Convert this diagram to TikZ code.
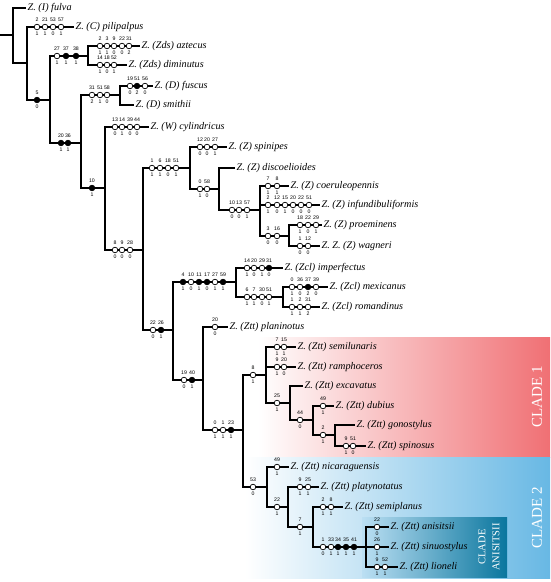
\documentclass[tikz,border=0pt]{standalone}
\usepackage{fontspec}
\setmainfont{Liberation Serif}
\newfontfamily\numfont{Liberation Sans}
\usepackage{tikz}
\usetikzlibrary{positioning}
\definecolor{cladered}{RGB}{240,112,116}
\definecolor{cladeblue}{RGB}{104,184,228}
\definecolor{anisteal}{RGB}{10,118,158}
\newcommand{\chars}[3]{%
  \foreach \dx/\dn/\ds/\df in {#3}{
    \node[chardot, fill=\df] (#1-\dn) at (\dx,#2) {};
    \node[charnum, above=1.6pt of #1-\dn] (#1-\dn-c) {\dn};
    \node[charnum, below=1.6pt of #1-\dn] (#1-\dn-s) {\ds};
  }}

\begin{document}
\begin{tikzpicture}[
  x=1pt, y=-1pt,
  branch/.style={line width=2.5pt},
  taxon/.style={anchor=west, inner xsep=1.5pt, inner ysep=0pt, font=\fontsize{10.2}{11}\selectfont\itshape},
  chardot/.style={circle, draw, line width=0.7pt, minimum size=5.6pt, inner sep=0pt},
  charnum/.style={inner sep=0.2pt, font=\numfont\fontsize{5.2}{5.2}\selectfont},
  cladelabel/.style={rotate=90, text=white, align=center}
]
\useasboundingbox (0,0) rectangle (550,582);

\shade[left color=white, right color=cladered] (258,337) rectangle (550,457);
\shade[left color=white, right color=cladeblue] (245,457) rectangle (550,578);
\shade[left color=cladeblue!45!white, right color=anisteal] (362,517) rectangle (507,577);

\node[cladelabel, font=\fontsize{15}{15}\selectfont] (clade1) at (537,397) {CLADE 1};
\node[cladelabel, font=\fontsize{15}{15}\selectfont] (clade2) at (537,518) {CLADE 2};
\node[cladelabel, font=\fontsize{10.5}{14}\selectfont] (cladeani) at (489,547) {CLADE\\ANISITSII};

\coordinate (base) at (0,35);
\coordinate (root) at (13,35);
\coordinate (n1) at (27,63);
\coordinate (n2) at (50,100);
\coordinate (zds) at (88,56);
\coordinate (n3) at (81,143);
\coordinate (dcl) at (120,95);
\coordinate (n4) at (105,188);
\coordinate (n5) at (143,250);
\coordinate (n6) at (190,168);
\coordinate (n8) at (219,189);
\coordinate (n9) at (260,210);
\coordinate (n10) at (289,236);
\coordinate (n7) at (173,330);
\coordinate (zcl) at (236,282);
\coordinate (n11) at (283,297);
\coordinate (ztt) at (203,380);
\coordinate (n12) at (243,430);
\coordinate (n13) at (266,375);
\coordinate (n14) at (290,403);
\coordinate (n15) at (313,420);
\coordinate (n16) at (335,435);
\coordinate (n20) at (267,487);
\coordinate (n21) at (288,507);
\coordinate (n22) at (313,527);
\coordinate (n23) at (366,547);

\node[taxon] (fulva) at (26,8) {Z. (I) fulva};
\node[taxon] (pilipalpus) at (74,27) {Z. (C) pilipalpus};
\node[taxon] (aztecus) at (140,46) {Z. (Zds) aztecus};
\node[taxon] (diminutus) at (127,65) {Z. (Zds) diminutus};
\node[taxon] (fuscus) at (153,86) {Z. (D) fuscus};
\node[taxon] (smithii) at (134,105) {Z. (D) smithii};
\node[taxon] (cylindricus) at (149,127) {Z. (W) cylindricus};
\node[taxon] (spinipes) at (227,147) {Z. (Z) spinipes};
\node[taxon] (discoelioides) at (235,168) {Z. (Z) discoelioides};
\node[taxon] (coeruleopennis) at (289,186) {Z. (Z) coeruleopennis};
\node[taxon] (infundibuliformis) at (320,205) {Z. (Z) infundibuliformis};
\node[taxon] (proeminens) at (322,225) {Z. (Z) proeminens};
\node[taxon] (wagneri) at (320,246) {Z. Z. (Z) wagneri};
\node[taxon] (imperfectus) at (283,268) {Z. (Zcl) imperfectus};
\node[taxon] (mexicanus) at (328,287) {Z. (Zcl) mexicanus};
\node[taxon] (romandinus) at (320,307) {Z. (Zcl) romandinus};
\node[taxon] (planinotus) at (228,327) {Z. (Ztt) planinotus};
\node[taxon] (semilunaris) at (296,347) {Z. (Ztt) semilunaris};
\node[taxon] (ramphoceros) at (296,367) {Z. (Ztt) ramphoceros};
\node[taxon] (excavatus) at (303,386) {Z. (Ztt) excavatus};
\node[taxon] (dubius) at (334,406) {Z. (Ztt) dubius};
\node[taxon] (gonostylus) at (355,425) {Z. (Ztt) gonostylus};
\node[taxon] (spinosus) at (366,446) {Z. (Ztt) spinosus};
\node[taxon] (nicaraguensis) at (289,467) {Z. (Ztt) nicaraguensis};
\node[taxon] (platynotatus) at (319,487) {Z. (Ztt) platynotatus};
\node[taxon] (semiplanus) at (343,507) {Z. (Ztt) semiplanus};
\node[taxon] (anisitsii) at (389,527) {Z. (Ztt) anisitsii};
\node[taxon] (sinuostylus) at (389,547) {Z. (Ztt) sinuostylus};
\node[taxon] (lioneli) at (398,567) {Z. (Ztt) lioneli};

\draw[branch] (base) -- (root);
\draw[branch] (root) |- (fulva.west);
\draw[branch] (root) |- (n1);
\draw[branch] (n1) |- (pilipalpus.west);
\draw[branch] (n1) |- (n2);
\draw[branch] (n2) |- (zds);
\draw[branch] (n2) |- (n3);
\draw[branch] (zds) |- (aztecus.west);
\draw[branch] (zds) |- (diminutus.west);
\draw[branch] (n3) |- (dcl);
\draw[branch] (n3) |- (n4);
\draw[branch] (dcl) |- (fuscus.west);
\draw[branch] (dcl) |- (smithii.west);
\draw[branch] (n4) |- (cylindricus.west);
\draw[branch] (n4) |- (n5);
\draw[branch] (n5) |- (n6);
\draw[branch] (n5) |- (n7);
\draw[branch] (n6) |- (spinipes.west);
\draw[branch] (n6) |- (n8);
\draw[branch] (n8) |- (discoelioides.west);
\draw[branch] (n8) |- (n9);
\draw[branch] (n9) |- (coeruleopennis.west);
\draw[branch] (n9) |- (infundibuliformis.west);
\draw[branch] (n9) |- (n10);
\draw[branch] (n10) |- (proeminens.west);
\draw[branch] (n10) |- (wagneri.west);
\draw[branch] (n7) |- (zcl);
\draw[branch] (n7) |- (ztt);
\draw[branch] (zcl) |- (imperfectus.west);
\draw[branch] (zcl) |- (n11);
\draw[branch] (n11) |- (mexicanus.west);
\draw[branch] (n11) |- (romandinus.west);
\draw[branch] (ztt) |- (planinotus.west);
\draw[branch] (ztt) |- (n12);
\draw[branch] (n12) |- (n13);
\draw[branch] (n12) |- (n20);
\draw[branch] (n13) |- (semilunaris.west);
\draw[branch] (n13) |- (ramphoceros.west);
\draw[branch] (n13) |- (n14);
\draw[branch] (n14) |- (excavatus.west);
\draw[branch] (n14) |- (n15);
\draw[branch] (n15) |- (dubius.west);
\draw[branch] (n15) |- (n16);
\draw[branch] (n16) |- (gonostylus.west);
\draw[branch] (n16) |- (spinosus.west);
\draw[branch] (n20) |- (nicaraguensis.west);
\draw[branch] (n20) |- (n21);
\draw[branch] (n21) |- (platynotatus.west);
\draw[branch] (n21) |- (n22);
\draw[branch] (n22) |- (semiplanus.west);
\draw[branch] (n22) |- (n23);
\draw[branch] (n23) |- (anisitsii.west);
\draw[branch] (n23) |- (sinuostylus.west);
\draw[branch] (n23) |- (lioneli.west);

\chars{pil}{27}{37/2/1/white, 45/21/1/white, 53/53/0/white, 61/57/1/white}
\chars{n2}{100}{37/5/0/black}
\chars{zds}{56}{57/27/1/white, 66/37/1/black, 76/38/1/black}
\chars{azt}{46}{100/2/1/white, 107/3/1/white, 114/9/0/white, 122/22/0/white, 129/31/2/white}
\chars{dim}{65}{100/14/1/white, 107/18/0/white, 114/52/1/white}
\chars{n3}{143}{61/20/1/black, 68/36/1/black}
\chars{dcl}{95}{92/31/2/white, 100/51/1/white, 107/58/0/white}
\chars{fus}{86}{130/19/0/white, 137/51/2/black, 145/56/0/white}
\chars{n4}{188}{92/10/1/black}
\chars{cyl}{127}{115/13/0/white, 122/14/1/white, 130/39/0/white, 137/44/0/white}
\chars{n5}{250}{115/8/0/white, 122/9/0/white, 130/28/0/white}
\chars{n6}{168}{152/1/1/white, 160/6/1/white, 168/18/0/white, 176/51/1/white}
\chars{spi}{147}{200/12/0/white, 207/20/0/white, 215/27/1/white}
\chars{n8}{189}{200/0/1/white, 207/58/0/white}
\chars{n9}{210}{232/10/0/white, 239/13/0/white, 247/57/1/white}
\chars{coe}{186}{268/7/1/white, 277/8/1/white}
\chars{inf}{205}{268/2/1/white, 277/12/0/white, 285/15/1/white, 293/20/0/white, 301/22/0/white, 309/51/0/white}
\chars{n10}{236}{268/3/0/white, 277/16/0/white}
\chars{pro}{225}{300/18/1/white, 308/22/0/white, 316/29/1/white}
\chars{wag}{246}{300/1/0/white, 308/12/0/white}
\chars{n7}{330}{153/22/0/white, 161/26/1/black}
\chars{zcl}{282}{183/4/1/black, 191/10/0/white, 199/11/1/black, 207/17/0/black, 215/27/1/white, 223/59/1/black}
\chars{imp}{268}{247/14/1/white, 254/20/0/white, 262/29/1/white, 269/31/0/black}
\chars{n11}{297}{247/6/1/white, 254/7/1/white, 262/30/0/white, 269/51/1/white}
\chars{mex}{287}{292/0/1/white, 300/36/0/white, 308/37/2/black, 316/39/0/white}
\chars{rom}{307}{292/1/1/white, 300/2/1/white, 308/31/2/white}
\chars{ztt}{380}{184/19/0/white, 192/40/1/black}
\chars{pla}{327}{215/20/0/white}
\chars{n12}{430}{215/0/1/white, 223/1/1/white, 231/23/1/black}
\chars{n13}{375}{253/8/1/white}
\chars{sem}{347}{277/7/1/white, 284/15/1/white}
\chars{ram}{367}{277/9/1/white, 284/20/0/white}
\chars{n14}{403}{277/25/1/white}
\chars{n15}{420}{300/44/0/white}
\chars{dub}{406}{323/49/1/white}
\chars{n16}{435}{323/2/1/white}
\chars{spn}{446}{346/9/1/white, 353/51/0/white}
\chars{n20}{487}{253/53/0/white}
\chars{nic}{467}{277/49/1/white}
\chars{n21}{507}{277/22/1/white}
\chars{pty}{487}{300/9/1/white, 308/25/1/white}
\chars{n22}{527}{300/7/1/white}
\chars{spl}{507}{323/2/1/white, 331/8/1/white}
\chars{n23}{547}{323/1/0/white, 331/33/1/white, 338/34/1/black, 346/35/1/black, 354/41/1/black}
\chars{ani}{527}{377/22/0/white}
\chars{sin}{547}{377/26/1/white}
\chars{lio}{567}{377/9/1/white, 385/52/1/white}
\end{tikzpicture}
\end{document}
